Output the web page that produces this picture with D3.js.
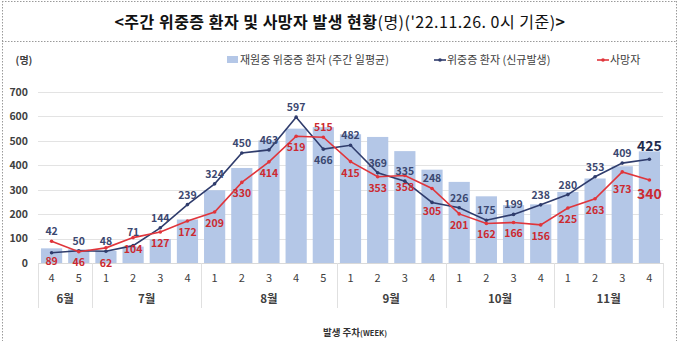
<!DOCTYPE html>
<html><head><meta charset="utf-8">
<script src="https://cdn.jsdelivr.net/npm/d3@7/dist/d3.min.js"></script>
<style>
html,body{margin:0;padding:0;background:#fff;}
svg{display:block;font-family:"Noto Sans CJK KR","Noto Sans",sans-serif;}
</style></head>
<body><svg id="c" width="680" height="341"></svg>
<script>
// ---- data ----
const months = ['6월','7월','8월','9월','10월','11월'];
const weeksPerMonth = [2,4,5,4,4,4];
const weekLabels = ['4','5','1','2','3','4','1','2','3','4','5','1','2','3','4','1','2','3','4','1','2','3','4'];
const inHospital = [60,56,50,67,98,178,298,389,502,550,556,527,516,458,382,332,273,237,240,291,346,396,457];
const newSevere = [42,50,48,71,144,239,324,450,463,597,466,482,369,335,248,226,175,199,238,280,353,409,425];
const deaths = [89,46,62,104,127,172,209,330,414,519,515,415,353,358,305,201,162,166,156,225,263,373,340];
const yTicks = [0,100,200,300,400,500,600,700];
const seriesNames = ['재원중 위중증 환자 (주간 일평균)','위중증 환자 (신규발생)','사망자'];

// label placement (style config, by index): baseline offset from the point
const newSevereLabelDy = {0:-18, 3:-10, 10:15, 14:-20, 22:-8};
const deathsLabelDy = {0:24, 1:14, 2:19, 10:-6, 14:27, 21:21, 22:19};

const C = {bar:'#b4c7e7', blue:'#2f3c6c', blueText:'#3b4770', red:'#e0353b', redText:'#cc2a30', grid:'#e3e3e3', text:'#404040'};

const svg = d3.select('#c');
const W = 680, H = 341;
const left = 38, right = 663, y0 = 263, yTop = 92;

// frame (dotted)
const frame = svg.append('g').attr('stroke','#9a9a9a').attr('stroke-width',1).attr('stroke-dasharray','1.5,1.5');
frame.append('line').attr('x1',2).attr('x2',677).attr('y1',1.5).attr('y2',1.5);
frame.append('line').attr('x1',2).attr('x2',677).attr('y1',41.5).attr('y2',41.5);
frame.append('line').attr('x1',2.5).attr('x2',2.5).attr('y1',1).attr('y2',H);
frame.append('line').attr('x1',676.5).attr('x2',676.5).attr('y1',1).attr('y2',H);

// title
const title = svg.append('text').attr('x',340).attr('y',28).attr('text-anchor','middle')
  .attr('font-size',16).attr('letter-spacing',0.5).attr('fill','#111');
title.append('tspan').attr('font-weight','bold').text('<주간 위중증 환자 및 사망자 발생 현황');
title.append('tspan').attr('font-weight','normal').text("(명)('22.11.26. 0시 기준)");
title.append('tspan').attr('font-weight','bold').text('>');

const idx = d3.range(weekLabels.length);
const x = d3.scaleBand().domain(idx).range([left,right]).padding(0);
const y = d3.scaleLinear().domain([0,700]).range([y0,yTop]);
const bw = x.bandwidth()*0.78;
const cx = i => x(i)+x.bandwidth()/2;

// grid
svg.append('g').selectAll('line').data(yTicks.filter(d=>d>0)).join('line')
  .attr('x1',left).attr('x2',right).attr('y1',d=>Math.round(y(d))+0.5).attr('y2',d=>Math.round(y(d))+0.5)
  .attr('stroke',C.grid).attr('stroke-width',1);

// y axis labels
const yAxis = d3.axisLeft(y).tickValues(yTicks).tickSize(0).tickPadding(0);
const ya = svg.append('g').attr('transform','translate(28,0)').call(yAxis);
ya.select('.domain').remove();
ya.selectAll('text').attr('font-size',10.5).attr('font-weight','bold').attr('fill',C.text)
  .attr('font-family','"Noto Sans CJK KR",sans-serif');

svg.append('text').attr('x',24).attr('y',64).attr('text-anchor','middle')
  .attr('font-size',10).attr('font-weight','bold').attr('fill',C.text).text('(명)');

// bars
svg.append('g').selectAll('rect').data(inHospital).join('rect')
  .attr('x',(d,i)=>cx(i)-bw/2).attr('width',bw)
  .attr('y',d=>y(d)).attr('height',d=>y0-y(d)).attr('fill',C.bar);

// category axis
const cat = svg.append('g');
cat.append('line').attr('x1',left).attr('x2',right).attr('y1',y0+0.5).attr('y2',y0+0.5).attr('stroke','#d9d9d9');
let acc = 0;
const bounds = [0];
weeksPerMonth.forEach(n=>{acc+=n; bounds.push(acc);});
const bx = b => b===idx.length ? right : x(b);
cat.selectAll('line.sep').data(bounds).join('line').attr('class','sep')
  .attr('x1',b=>Math.round(bx(b))+0.5).attr('x2',b=>Math.round(bx(b))+0.5)
  .attr('y1',y0).attr('y2',308).attr('stroke','#e0e0e0');
cat.selectAll('text.wk').data(weekLabels).join('text').attr('class','wk')
  .attr('x',(d,i)=>cx(i)).attr('y',282).attr('text-anchor','middle')
  .attr('font-size',11).attr('fill',C.text).text(d=>d);
cat.selectAll('text.mo').data(months).join('text').attr('class','mo')
  .attr('x',(d,i)=>(bx(bounds[i])+bx(bounds[i+1]))/2)
  .attr('y',303).attr('text-anchor','middle').attr('font-size',11.5).attr('font-weight','bold').attr('fill',C.text).text(d=>d);

const at = svg.append('text').attr('x',355).attr('y',336).attr('text-anchor','middle')
  .attr('font-size',9.5).attr('font-weight','bold').attr('fill','#333');
at.append('tspan').text('발생 주차');
at.append('tspan').attr('font-size',7.5).text('(WEEK)');

// lines
const line = d3.line().x((d,i)=>cx(i)).y(d=>y(d));
function drawSeries(vals,color){
  svg.append('path').datum(vals).attr('d',line).attr('fill','none').attr('stroke',color).attr('stroke-width',1.6);
  svg.append('g').selectAll('circle').data(vals).join('circle')
    .attr('cx',(d,i)=>cx(i)).attr('cy',d=>y(d)).attr('r',1.8).attr('fill',color);
}
drawSeries(newSevere,C.blue);
drawSeries(deaths,C.red);

// labels
const last = idx.length-1;
svg.append('g').selectAll('text').data(newSevere).join('text')
  .attr('x',(d,i)=>cx(i)).attr('y',(d,i)=> y(d) + (i in newSevereLabelDy ? newSevereLabelDy[i] : -6))
  .attr('text-anchor','middle').attr('font-size',(d,i)=>i===last?14:10.5).attr('font-weight','bold')
  .attr('fill',(d,i)=>i===last?'#1f2b4d':C.blueText).text(d=>d);
svg.append('g').selectAll('text').data(deaths).join('text')
  .attr('x',(d,i)=>cx(i)).attr('y',(d,i)=> y(d) + (i in deathsLabelDy ? deathsLabelDy[i] : 15))
  .attr('text-anchor','middle').attr('font-size',(d,i)=>i===last?14:10.5).attr('font-weight','bold')
  .attr('fill',C.redText).text(d=>d);

// legend
const lg = svg.append('g').attr('font-size',11).attr('fill',C.text);
lg.append('rect').attr('x',227).attr('y',56).attr('width',11).attr('height',7).attr('fill',C.bar);
lg.append('text').attr('x',240).attr('y',64).attr('fill',C.text).text(seriesNames[0]);
lg.append('line').attr('x1',434).attr('x2',446).attr('y1',60).attr('y2',60).attr('stroke',C.blue).attr('stroke-width',1.6);
lg.append('circle').attr('cx',440).attr('cy',60).attr('r',1.8).attr('fill',C.blue);
lg.append('text').attr('x',447).attr('y',64).attr('fill',C.text).text(seriesNames[1]);
lg.append('line').attr('x1',597).attr('x2',609).attr('y1',60).attr('y2',60).attr('stroke',C.red).attr('stroke-width',1.6);
lg.append('circle').attr('cx',603).attr('cy',60).attr('r',1.8).attr('fill',C.red);
lg.append('text').attr('x',610).attr('y',64).attr('fill',C.text).text(seriesNames[2]);
</script></body></html>
